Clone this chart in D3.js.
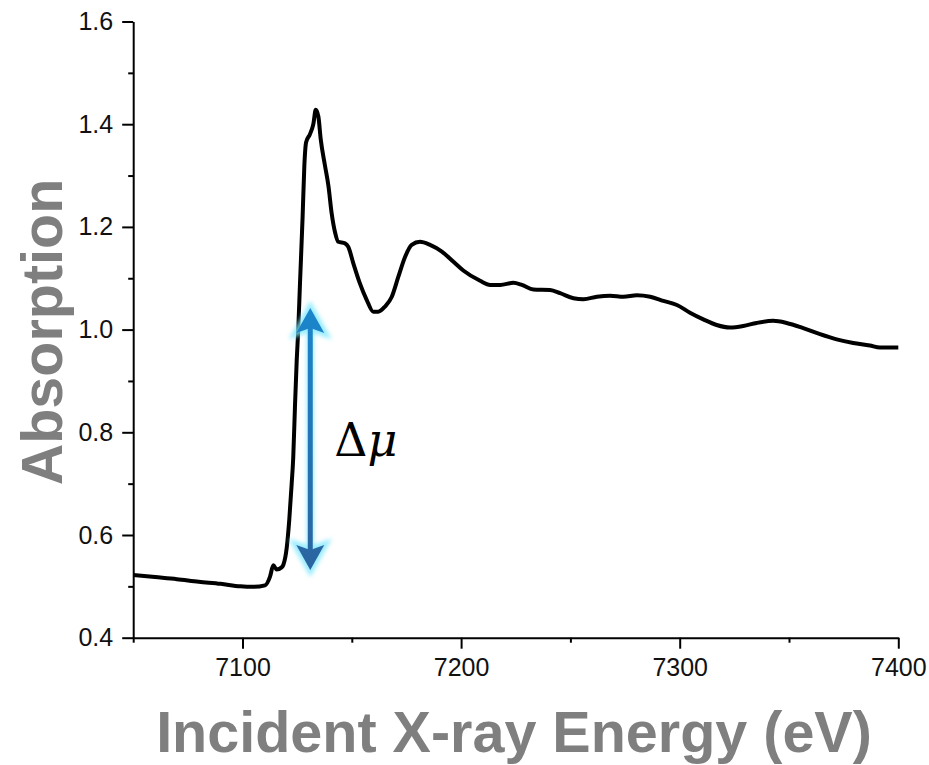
<!DOCTYPE html>
<html>
<head>
<meta charset="utf-8">
<script src="https://cdn.jsdelivr.net/npm/d3@7"></script>
<style>
  body { margin: 0; background: #fff; }
  svg { display: block; }
</style>
</head>
<body>
<div id="chart"></div>
<script>
"use strict";

// spectrum: incident energy (eV) and absorption
var energy = [7050, 7060, 7070, 7080, 7090, 7099, 7105, 7110.3, 7112.6, 7114.1, 7115.6,
  7117.9, 7118.7, 7120.2, 7121.4, 7122.5, 7123.2, 7124.0, 7124.8, 7125.5, 7126.3,
  7127.5, 7128.3, 7129.1, 7130.8, 7132.4, 7133.5, 7134.7, 7135.8, 7137.7, 7139.3,
  7140.8, 7142.3, 7143.8, 7146.9, 7148.4, 7150.7, 7153.7, 7156.8, 7159.8, 7162.1,
  7165.2, 7168.3, 7171.3, 7174.4, 7177.4, 7181.2, 7185.8, 7191.2, 7196.5, 7201,
  7208.7, 7213.3, 7217.9, 7223.9, 7227.8, 7233.1, 7240.7, 7245.3, 7251.4, 7256.0,
  7262.1, 7268.2, 7274.3, 7280.4, 7286.5, 7292.5, 7298.7, 7304.7, 7310.8, 7316.9,
  7323.0, 7329.1, 7335.2, 7342.8, 7348.9, 7356.5, 7364.2, 7371.8, 7379.4, 7387.0,
  7391.6, 7400];
var absorption = [0.522, 0.518, 0.514, 0.509, 0.505, 0.500, 0.499, 0.502, 0.519, 0.541, 0.533,
  0.537, 0.542, 0.574, 0.630, 0.700, 0.750, 0.850, 0.940, 1.000, 1.090,
  1.220, 1.320, 1.365, 1.380, 1.400, 1.428, 1.415, 1.370, 1.320, 1.280,
  1.226, 1.190, 1.171, 1.168, 1.161, 1.129, 1.090, 1.058, 1.035, 1.035,
  1.045, 1.064, 1.103, 1.142, 1.165, 1.171, 1.165, 1.152, 1.132, 1.115,
  1.095, 1.087, 1.087, 1.091, 1.087, 1.078, 1.077, 1.071, 1.061, 1.059,
  1.064, 1.066, 1.064, 1.067, 1.064, 1.056, 1.048, 1.033, 1.020, 1.009,
  1.004, 1.007, 1.013, 1.017, 1.013, 1.003, 0.991, 0.981, 0.974, 0.969,
  0.965, 0.965];

var xTicks = [7100, 7200, 7300, 7400];
var xMinorTicks = [7050, 7150, 7250, 7350];
var yTicks = [0.4, 0.6, 0.8, 1.0, 1.2, 1.4, 1.6];
var yMinorTicks = [0.5, 0.7, 0.9, 1.1, 1.3, 1.5];

// edge-step annotation (delta mu arrow)
var stepEnergy = 7131;
var stepLow = 0.532;
var stepHigh = 1.042;

var W = 929, H = 765;
var x = d3.scaleLinear().domain([7050, 7400]).range([133.2, 898.3]);
var y = d3.scaleLinear().domain([0.4, 1.6]).range([637.7, 21.5]);

var svg = d3.select("#chart")
  .append("svg")
    .attr("width", W)
    .attr("height", H);

var defs = svg.append("defs");
var grad = defs.append("linearGradient")
    .attr("id", "arrowGrad");
grad.append("stop").attr("offset", "0%").attr("stop-color", "#1a86cc");
grad.append("stop").attr("offset", "100%").attr("stop-color", "#2b64a0");

var glow = defs.append("filter").attr("id", "glow")
    .attr("x", "-100%").attr("y", "-20%").attr("width", "300%").attr("height", "140%");
glow.append("feGaussianBlur").attr("stdDeviation", 2.2);

// axes
function styleAxis(g) {
  g.selectAll("path.domain").attr("stroke", "#000").attr("stroke-width", 2);
  g.selectAll(".tick line").attr("stroke", "#000").attr("stroke-width", 2);
  g.selectAll(".tick text")
    .attr("font-family", "'Liberation Sans', Arial, sans-serif")
    .attr("font-size", 25)
    .attr("fill", "#111");
}

var xAxis = svg.append("g")
    .attr("transform", "translate(0," + y(0.4) + ")")
    .call(d3.axisBottom(x).tickValues(xTicks).tickFormat(d3.format("d"))
      .tickSizeInner(11).tickSizeOuter(0).tickPadding(10));
styleAxis(xAxis);
svg.append("g")
    .attr("transform", "translate(0," + y(0.4) + ")")
    .call(d3.axisBottom(x).tickValues(xMinorTicks).tickFormat("").tickSizeInner(5).tickSizeOuter(0))
    .call(function(g) { g.select(".domain").remove(); styleAxis(g); });

var yAxis = svg.append("g")
    .attr("transform", "translate(" + x(7050) + ",0)")
    .call(d3.axisLeft(y).tickValues(yTicks).tickFormat(d3.format(".1f"))
      .tickSizeInner(11).tickSizeOuter(0).tickPadding(9));
styleAxis(yAxis);
svg.append("g")
    .attr("transform", "translate(" + x(7050) + ",0)")
    .call(d3.axisLeft(y).tickValues(yMinorTicks).tickFormat("").tickSizeInner(5).tickSizeOuter(0))
    .call(function(g) { g.select(".domain").remove(); styleAxis(g); });

// spectrum
var line = d3.line()
    .x(function(d, i) { return x(energy[i]); })
    .y(function(d) { return y(d); })
    .curve(d3.curveMonotoneX);

svg.append("path")
    .datum(absorption)
    .attr("fill", "none")
    .attr("stroke", "#000")
    .attr("stroke-width", 4)
    .attr("stroke-linejoin", "round")
    .attr("d", line);

// delta mu double arrow
var ax = x(stepEnergy), aTop = y(stepHigh), aBot = y(stepLow);
var headL = 25, headW = 14, notch = 5;

// gradient runs along the arrow in user space (a vertical line has no bbox width)
grad.attr("gradientUnits", "userSpaceOnUse")
    .attr("x1", ax).attr("x2", ax).attr("y1", aTop).attr("y2", aBot);

function arrowShape() {
  return "M" + ax + "," + (aTop + headL - notch) + "L" + ax + "," + (aBot - headL + notch) +
    "M" + ax + "," + aTop + "L" + (ax + headW) + "," + (aTop + headL) + "L" + ax + "," + (aTop + headL - notch) +
    "L" + (ax - headW) + "," + (aTop + headL) + "Z" +
    "M" + ax + "," + aBot + "L" + (ax + headW) + "," + (aBot - headL) + "L" + ax + "," + (aBot - headL + notch) +
    "L" + (ax - headW) + "," + (aBot - headL) + "Z";
}
svg.append("path")
    .attr("d", arrowShape())
    .attr("fill", "#7fe8ff")
    .attr("stroke", "#7fe8ff")
    .attr("stroke-width", 7)
    .attr("opacity", 0.8)
    .attr("filter", "url(#glow)");
svg.append("path")
    .attr("d", "M" + ax + "," + (aTop + 10) + "L" + ax + "," + (aBot - 10))
    .attr("stroke", "url(#arrowGrad)")
    .attr("stroke-width", 5);
svg.append("path")
    .attr("d", arrowShape())
    .attr("fill", "url(#arrowGrad)")
    .attr("stroke", "none");

var dm = svg.append("text")
    .attr("x", ax + 24)
    .attr("y", y((stepHigh + stepLow) / 2) + 17)
    .attr("font-family", "'DejaVu Serif', 'Liberation Serif', serif")
    .attr("font-size", 46)
    .attr("fill", "#000");
dm.append("tspan").text("Δ");
dm.append("tspan").attr("font-style", "italic").text("μ");

// axis titles
svg.append("text")
    .attr("x", 514)
    .attr("y", 752)
    .attr("text-anchor", "middle")
    .attr("font-family", "'Liberation Sans', Arial, sans-serif")
    .attr("font-weight", "bold")
    .attr("font-size", 57.5)
    .attr("fill", "#7f7f7f")
    .text("Incident X-ray Energy (eV)");

svg.append("text")
    .attr("transform", "translate(62," + 332 + ") rotate(-90)")
    .attr("text-anchor", "middle")
    .attr("font-family", "'Liberation Sans', Arial, sans-serif")
    .attr("font-weight", "bold")
    .attr("font-size", 57.5)
    .attr("fill", "#7f7f7f")
    .text("Absorption");
</script>
</body>
</html>
